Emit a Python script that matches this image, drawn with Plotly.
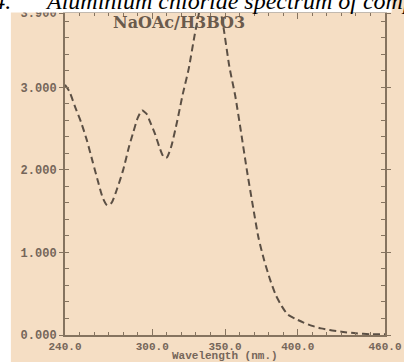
import plotly.graph_objects as go

# ---- data ----
wavelength = [240, 243, 247, 251, 255, 259, 263, 266, 269, 272, 276, 280, 284, 287, 290,
              293, 296, 299, 302, 305, 308, 310, 313, 317, 321, 325, 329, 333, 337, 341,
              345, 349, 353, 357, 361, 365, 369, 373, 377, 381, 385, 389, 393, 398, 404,
              410, 416, 422, 430, 440, 450, 460]
absorbance = [3.03, 2.95, 2.76, 2.58, 2.36, 2.10, 1.84, 1.66, 1.57, 1.60, 1.78, 2.00, 2.28, 2.46, 2.63,
              2.72, 2.68, 2.56, 2.43, 2.27, 2.15, 2.15, 2.28, 2.58, 2.92, 3.22, 3.62, 3.97, 4.20, 4.28,
              4.10, 3.72, 3.25, 2.90, 2.46, 2.00, 1.58, 1.18, 0.90, 0.67, 0.48, 0.35, 0.25, 0.20, 0.15,
              0.11, 0.08, 0.06, 0.04, 0.02, 0.01, 0.01]

x_tick_vals = [240, 300, 350, 400, 460]
x_tick_text = ["240.0", "300.0", "350.0", "400.0", "460.0"]
y_tick_vals = [0, 1, 2, 3, 3.9]
y_tick_text = ["0.000", "1.000", "2.000", "3.000", "3.900"]
x_title = "Wavelength (nm.)"
label_text = "NaOAc/H3BO3"
caption_a = "Fig. 4."
caption_b = "Aluminium chloride spectrum of compound"

# ---- layout geometry ----
W, H = 404, 362
L, R, T, B = 65, 2, 13, 27
PW, PH = W - L - R, H - T - B


def px_x(p):
    return (p - L) / PW


def px_y(p):
    return (H - B - p) / PH


PEACH = "#f5dec4"
AXIS = "#85735f"
TXT = "#75665a"
LINE = "#5b4f44"

fig = go.Figure()
fig.add_trace(go.Scatter(
    x=wavelength, y=absorbance, mode="lines",
    line=dict(color=LINE, width=2, dash="7px,4px", shape="spline", smoothing=0.6),
    showlegend=False, hoverinfo="skip",
))

xtick_font = dict(family="Liberation Mono", size=11, color=TXT, weight="bold")
ytick_font = dict(family="Liberation Mono", size=12, color=TXT, weight="bold")

fig.update_layout(
    width=W, height=H,
    margin=dict(l=L, r=R, t=T, b=B, pad=0),
    paper_bgcolor=PEACH, plot_bgcolor=PEACH,
    xaxis=dict(
        range=[240, 460], tickmode="array", tickvals=x_tick_vals, ticktext=x_tick_text,
        ticks="inside", ticklen=6, tickwidth=1.2, tickcolor=AXIS,
        showline=True, linecolor=AXIS, linewidth=1.5, mirror="allticks",
        showgrid=False, zeroline=False, tickfont=xtick_font, ticklabeloverflow="allow",
        minor=dict(dtick=10, tick0=240, ticks="inside", ticklen=3, tickcolor=AXIS, showgrid=False),
    ),
    yaxis=dict(
        range=[0, 3.9], tickmode="array", tickvals=y_tick_vals, ticktext=y_tick_text,
        ticks="outside", ticklen=4, tickwidth=1.2, tickcolor=AXIS,
        showline=True, linecolor=AXIS, linewidth=2, mirror="allticks",
        showgrid=False, zeroline=False, tickfont=ytick_font, ticklabeloverflow="allow",
        minor=dict(dtick=0.2, tick0=0, ticks="inside", ticklen=4, tickcolor=AXIS, showgrid=False),
    ),
)

# x-axis title placed under the tick labels
fig.add_annotation(text=x_title, xref="paper", yref="paper", x=0.5, y=px_y(355.5),
                   xanchor="center", yanchor="middle", showarrow=False,
                   font=dict(family="Liberation Mono", size=11, color=TXT, weight="bold"))

# white caption band (top) and white strip (left)
fig.add_shape(type="rect", xref="paper", yref="paper", layer="above",
              x0=px_x(-5), x1=px_x(W + 5), y0=px_y(12.5), y1=px_y(-5),
              fillcolor="white", line=dict(width=0))
fig.add_shape(type="rect", xref="paper", yref="paper", layer="above",
              x0=px_x(-5), x1=px_x(8), y0=px_y(H + 5), y1=px_y(-5),
              fillcolor="white", line=dict(width=0))

cap_font = dict(family="Liberation Serif", size=24, color="black", style="italic")
fig.add_annotation(text=caption_a, xref="paper", yref="paper", x=px_x(10), y=px_y(1.5),
                   xanchor="right", yanchor="middle", showarrow=False, font=cap_font)
fig.add_annotation(text=caption_b, xref="paper", yref="paper", x=px_x(42), y=px_y(1.5),
                   xanchor="left", yanchor="middle", showarrow=False, font=cap_font)

fig.add_annotation(text=label_text, xref="paper", yref="paper", x=px_x(185), y=px_y(22),
                   xanchor="center", yanchor="middle", showarrow=False,
                   font=dict(family="DejaVu Serif", size=16, color="#6a5a4c", weight="bold"))

fig.write_html("out.html")
